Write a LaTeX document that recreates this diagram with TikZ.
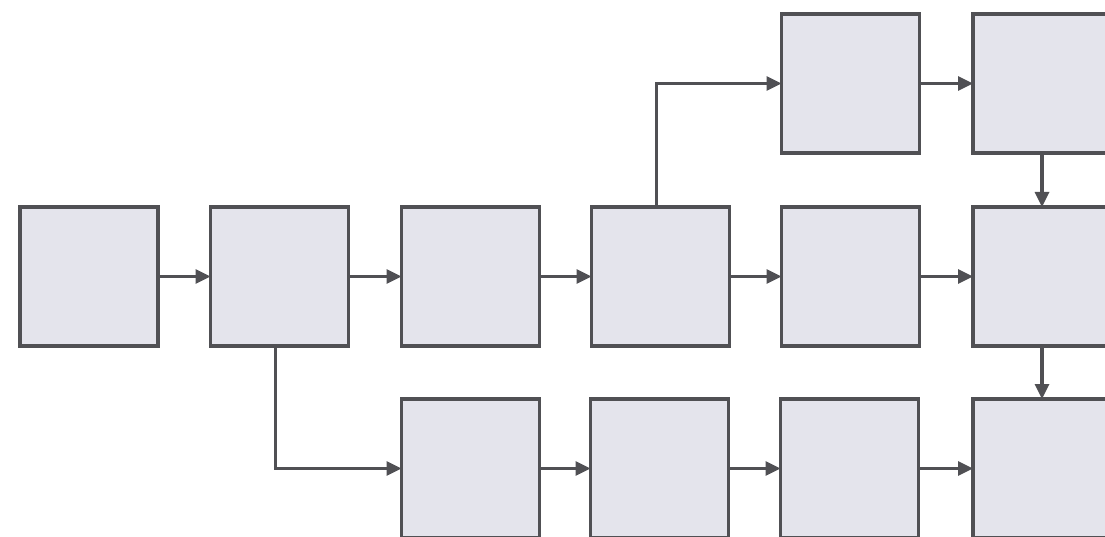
\documentclass[tikz,border=0pt]{standalone}
\usetikzlibrary{arrows.meta}
\definecolor{boxfill}{RGB}{228,228,236}
\definecolor{edge}{RGB}{80,80,84}
\begin{document}
\begin{tikzpicture}[x=1pt,y=-1pt,
  blk/.style={draw=edge, line width=3.2pt, fill=boxfill, minimum width=138pt, minimum height=139pt, inner sep=0pt, outer sep=0pt},
  conn/.style={draw=edge, line width=3.2pt, -{Triangle[length=15pt,width=14pt]}}]
\useasboundingbox (0,0) rectangle (1105,537);
\clip (0,0) rectangle (1105,537);
% middle row
\node[blk] (m1) at (89,276.5) {};
\node[blk] (m2) at (279.5,276.5) {};
\node[blk] (m3) at (470.5,276.5) {};
\node[blk] (m4) at (660.5,276.5) {};
\node[blk] (m5) at (850.5,276.5) {};
\node[blk] (m6) at (1042,276.5) {};
% top row
\node[blk] (t1) at (850.5,83.5) {};
\node[blk] (t2) at (1042,83.5) {};
% bottom row
\node[blk] (b1) at (470.5,468.5) {};
\node[blk] (b2) at (659.5,468.5) {};
\node[blk] (b3) at (849.5,468.5) {};
\node[blk] (b4) at (1042,468.5) {};
% connectors
\draw[conn] (m1) -- (m2);
\draw[conn] (m2) -- (m3);
\draw[conn] (m3) -- (m4);
\draw[conn] (m4) -- (m5);
\draw[conn] (m5) -- (m6);
\draw[conn] ([xshift=-4pt]m2.south) |- (b1.west);
\draw[conn] ([xshift=-4pt]m4.north) |- (t1.west);
\draw[conn] (t1) -- (t2);
\draw[conn] (t2) -- (m6);
\draw[conn] (m6) -- (b4);
\draw[conn] (b1) -- (b2);
\draw[conn] (b2) -- (b3);
\draw[conn] (b3) -- (b4);
\end{tikzpicture}
\end{document}
